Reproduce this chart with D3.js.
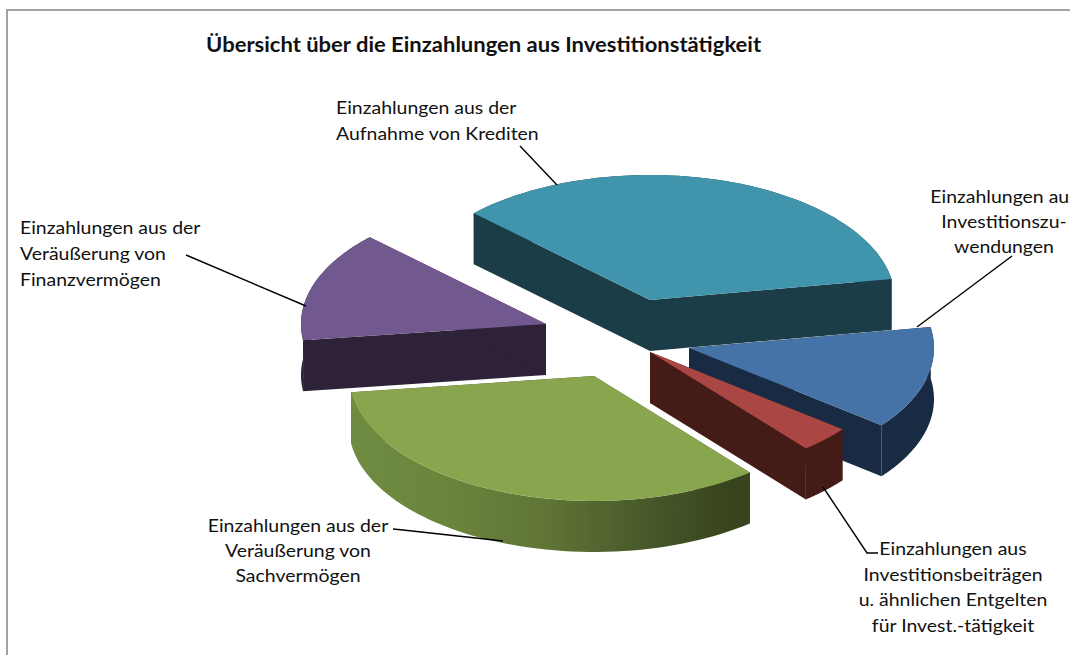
<!DOCTYPE html>
<html>
<head>
<meta charset="utf-8">
<script src="https://cdn.jsdelivr.net/npm/d3@7"></script>
<style>
  html, body { margin: 0; padding: 0; background: #fff; overflow: hidden; }
  text { font-family: Lato, "Open Sans", sans-serif; fill: #111; }
</style>
</head>
<body>
<svg id="chart" width="1070" height="655"></svg>
<script>
const titleText = "Übersicht über die Einzahlungen aus Investitionstätigkeit";

// shares in %
const categories = ["Kredite", "Investitionszuwendungen", "Investitionsbeiträge", "Sachvermögen", "Finanzvermögen"];
const values = [35.1, 13.3, 3.4, 33.9, 14.3];

const labelLines = [
    ["Einzahlungen aus der", "Aufnahme von Krediten"],
    ["Einzahlungen aus", "Investitionszu-", "wendungen"],
    ["Einzahlungen aus", "Investitionsbeiträgen", "u. ähnlichen Entgelten", "für Invest.-tätigkeit"],
    ["Einzahlungen aus der", "Veräußerung von", "Sachvermögen"],
    ["Einzahlungen aus der", "Veräußerung von", "Finanzvermögen"]
];

const topColors = ["#4095ad", "#4572a7", "#aa4643", "#89a54e", "#71588f"];
const wallColors = ["#1b3d47", "#182b42", "#451b17", "#3f4d22", "#2d2238"];

// layout of the flattened pie
const cx = 620, cy = 338, rx = 245, ry = 125, depth = 51;
const explode = [[30, -38], [69, 10], [30, 14], [-26, 38], [-74, -14]];
const startDeg = 314;

const labelPos = [
    { x: 336, y: 114, anchor: "start", step: 25.5 },
    { x: 1004, y: 203, anchor: "middle", step: 25 },
    { x: 953, y: 555, anchor: "middle", step: 25.7 },
    { x: 298, y: 532, anchor: "middle", step: 25 },
    { x: 20, y: 234, anchor: "start", step: 26 }
];
const leaders = [
    [[520, 146], [557, 185]],
    [[1012, 256], [917, 327]],
    [[823, 487], [867, 553], [878, 553]],
    [[393, 529], [403, 530], [503, 541]],
    [[186, 255], [306, 306]]
];
const textStretch = 1.08;

const svg = d3.select("#chart");
const defs = svg.append("defs");

// border of the chart area runs off the picture on the right and bottom
svg.append("rect")
    .attr("x", 7).attr("y", 10).attr("width", 1200).attr("height", 800)
    .attr("fill", "#fff").attr("stroke", "#8c8c8c").attr("stroke-width", 1.6);

const grad = defs.append("linearGradient").attr("id", "greenRim")
    .attr("gradientUnits", "userSpaceOnUse")
    .attr("x1", 350).attr("x2", 750).attr("y1", 0).attr("y2", 0);
[[0, "#6f8c42"], [0.25, "#6b843c"], [0.5, "#5f7435"], [0.75, "#47572a"], [0.95, "#38441d"], [1, "#38441d"]]
    .forEach(s => grad.append("stop").attr("offset", s[0]).attr("stop-color", s[1]));

const xScale = d3.scaleLinear().domain([-1, 1]).range([-rx, rx]);
const yScale = d3.scaleLinear().domain([-1, 1]).range([ry, -ry]);

const pie = d3.pie().sort(null)
    .startAngle(startDeg * Math.PI / 180)
    .endAngle((startDeg + 360) * Math.PI / 180);
const arcs = pie(values);

const line = d3.line();

function rimPoints(d, ox, oy) {
    const pts = [];
    const n = 60;
    for (let i = 0; i <= n; i++) {
        const a = d.startAngle + (d.endAngle - d.startAngle) * i / n;
        pts.push([ox + xScale(Math.sin(a)), oy + yScale(Math.cos(a))]);
    }
    return pts;
}

const slices = arcs.map((d, i) => {
    const ox = cx + explode[i][0], oy = cy + explode[i][1];
    return { d, i, ox, oy };
}).sort((a, b) => a.oy - b.oy);

const pieG = svg.append("g");

slices.forEach(s => {
    const rim = rimPoints(s.d, s.ox, s.oy);
    const g = pieG.append("g").attr("class", "slice");
    const wall = wallColors[s.i];
    const down = p => [p[0], p[1] + depth];
    const apex = [s.ox, s.oy];
    const first = rim[0], last = rim[rim.length - 1];

    // cut faces
    [first, last].forEach(p => {
        g.append("path")
            .attr("d", line([apex, p, down(p), down(apex)]) + "Z")
            .attr("fill", wall);
    });
    // outer rim
    const rimPath = rim.concat(rim.map(down).reverse());
    g.append("path")
        .attr("d", line(rimPath) + "Z")
        .attr("fill", s.i === 3 ? "url(#greenRim)" : wall);
    // top
    g.append("path")
        .attr("d", line([apex].concat(rim)) + "Z")
        .attr("fill", topColors[s.i]);
});

// the reference text is wider than Lato, so stretch each line a little
function stretch(sel, factor) {
    sel.each(function () {
        const len = this.getComputedTextLength();
        d3.select(this)
            .attr("textLength", len * factor)
            .attr("lengthAdjust", "spacingAndGlyphs");
    });
}

svg.append("text")
    .attr("x", 206).attr("y", 52)
    .attr("font-size", 20).attr("font-weight", 700)
    .text(titleText)
    .call(stretch, 1.1);

leaders.forEach(pts => {
    svg.append("path")
        .attr("d", line(pts))
        .attr("fill", "none").attr("stroke", "#000").attr("stroke-width", 1.4);
});

labelLines.forEach((lines, i) => {
    const p = labelPos[i];
    lines.forEach((l, j) => {
        svg.append("text")
            .attr("x", p.x).attr("y", p.y + j * p.step)
            .attr("text-anchor", p.anchor).attr("font-size", 18)
            .text(l)
            .call(stretch, textStretch);
    });
});
</script>
</body>
</html>
